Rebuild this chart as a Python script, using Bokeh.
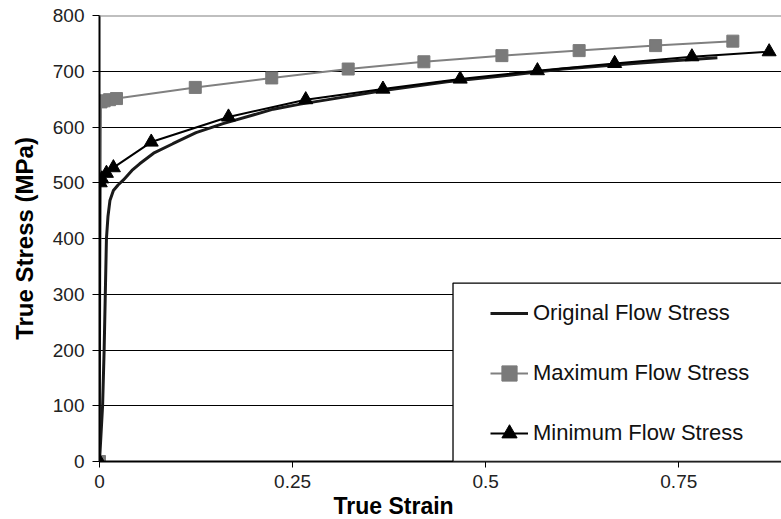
from bokeh.plotting import figure
from bokeh.models import Range1d, FixedTicker, Legend, LegendItem, BoxAnnotation, Span, Title
from bokeh.embed import file_html
from bokeh.resources import INLINE

# ---- data ----
orig_x = [0, 0.004, 0.006, 0.0075, 0.009, 0.011, 0.0135, 0.018, 0.024, 0.031, 0.042, 0.052, 0.07,
          0.095, 0.125, 0.16, 0.2, 0.225, 0.26, 0.3, 0.37, 0.45, 0.53, 0.6, 0.7, 0.8]
orig_y = [0, 100, 200, 300, 400, 440, 468, 486, 496, 505, 522, 534, 553,
          570, 590, 606, 622, 632, 641, 650, 666, 681, 693, 704, 715, 724]

max_x = [0, 0.002, 0.006, 0.013, 0.022, 0.124, 0.223, 0.322, 0.42, 0.521, 0.621, 0.72, 0.82]
max_y = [0, 645, 647, 649, 651, 671, 688, 704, 717, 728, 737, 746, 754]

min_x = [0, 0.001, 0.003, 0.009, 0.018, 0.067, 0.167, 0.267, 0.367, 0.467, 0.567, 0.667, 0.767, 0.867]
min_y = [0, 500, 507, 517, 527, 573, 618, 649, 668, 686, 701, 714, 726, 735]

x_ticks = [0, 0.25, 0.5, 0.75]
x_tick_labels = ["0", "0.25", "0.5", "0.75"]
y_ticks = [0, 100, 200, 300, 400, 500, 600, 700, 800]
grid_ticks = [100, 200, 300, 400, 500, 600, 700]

FONT = "Liberation Sans"

p = figure(width=781, height=519, output_backend="svg", toolbar_location=None,
           x_range=Range1d(0, 0.883), y_range=Range1d(0, 800),
           min_border_left=99, min_border_right=0, min_border_top=15, min_border_bottom=58)
p.outline_line_color = None
p.background_fill_color = "white"
p.border_fill_color = "white"

# axes
p.xaxis.ticker = FixedTicker(ticks=x_ticks)
p.xaxis.major_label_overrides = dict(zip(x_ticks, x_tick_labels))
p.yaxis.ticker = FixedTicker(ticks=y_ticks)
for ax in (p.xaxis[0], p.yaxis[0]):
    ax.axis_line_color = "black"
    ax.axis_line_width = 2
    ax.major_tick_line_color = "black"
    ax.major_tick_line_width = 1
    ax.major_tick_in = 0
    ax.minor_tick_line_color = None
    ax.major_label_text_font = FONT
    ax.major_label_text_font_size = "19px"
    ax.major_label_text_color = "#222222"
p.xaxis.major_tick_out = 6
p.xaxis.major_label_standoff = 7
p.yaxis.major_tick_out = 7
p.yaxis.major_label_standoff = 8

p.yaxis.axis_label = "True Stress (MPa)"
p.yaxis.axis_label_text_font = FONT
p.yaxis.axis_label_text_font_size = "24px"
p.yaxis.axis_label_text_font_style = "bold"
p.yaxis.axis_label_text_color = "black"
p.yaxis.axis_label_standoff = 12

p.add_layout(Title(text="True Strain", align="left", offset=234, text_font=FONT,
                   text_font_size="23px", text_font_style="bold", text_color="black",
                   standoff=0), "below")

# grid
p.xgrid.grid_line_color = None
p.ygrid.ticker = FixedTicker(ticks=grid_ticks)
p.ygrid.grid_line_color = "black"
p.ygrid.grid_line_width = 1
p.add_layout(Span(location=800, dimension="width", line_color="#808080", line_width=2))

# series
r_orig = p.line(orig_x, orig_y, line_color="#1a1a1a", line_width=3)
r_max_l = p.line(max_x, max_y, line_color="#808080", line_width=2)
r_max_m = p.scatter(max_x, max_y, marker="square", size=12, fill_color="#7a7a7a", line_color="#7a7a7a")
r_min_l = p.line(min_x, min_y, line_color="black", line_width=2)
r_min_m = p.scatter(min_x, min_y, marker="triangle", size=14, fill_color="black", line_color="black")

# legend box
p.add_layout(BoxAnnotation(left=0.4577, right=1.2, bottom=0, top=320,
                           fill_color="white", fill_alpha=1.0,
                           line_color="black", line_alpha=1.0, line_width=1.3))

legend = Legend(items=[
    LegendItem(label="Original Flow Stress", renderers=[r_orig]),
    LegendItem(label="Maximum Flow Stress", renderers=[r_max_l, r_max_m]),
    LegendItem(label="Minimum Flow Stress", renderers=[r_min_l, r_min_m]),
], location=(391, 8), orientation="vertical")
legend.border_line_color = None
legend.background_fill_alpha = 0
legend.padding = 0
legend.margin = 0
legend.spacing = 20
legend.label_height = 40
legend.glyph_height = 40
legend.glyph_width = 38
legend.label_standoff = 5
legend.label_text_font = FONT
legend.label_text_font_size = "22px"
legend.label_text_color = "#111111"
p.add_layout(legend)

open("out.html", "w").write(file_html(p, INLINE))
